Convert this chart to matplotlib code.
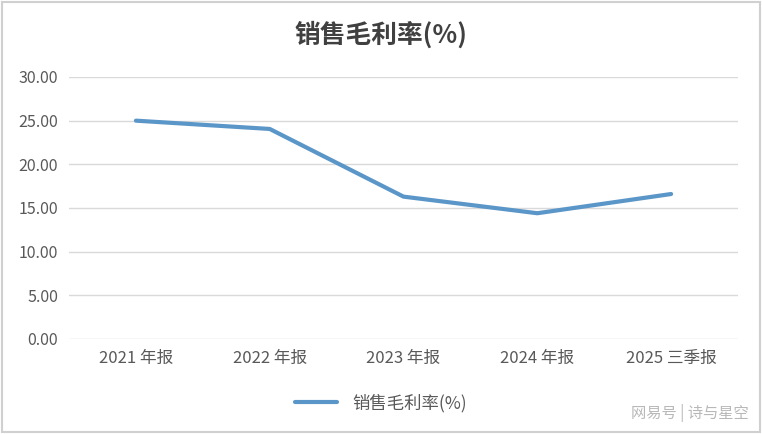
import matplotlib
matplotlib.use("Agg")
import matplotlib.pyplot as plt
from matplotlib.patches import Rectangle

plt.rcParams['font.family'] = ['Noto Sans CJK SC', 'DejaVu Sans']

# data
periodos = ["2021 年报", "2022 年报", "2023 年报", "2024 年报", "2025 三季报"]
margem = [25.0, 24.05, 16.3, 14.4, 16.6]
y_ticks = [0, 5, 10, 15, 20, 25, 30]

fig = plt.figure(figsize=(7.62, 4.34), dpi=100)
ax = fig.add_axes([0.0906, 0.2189, 0.8779, 0.6037])

ax.plot(range(len(periodos)), margem, color="#5b96c8", linewidth=3.0,
        solid_capstyle="round", solid_joinstyle="round", label="销售毛利率(%)")

ax.set_xlim(-0.5, len(periodos) - 0.5)
ax.set_ylim(0, 30)
ax.set_yticks(y_ticks)
ax.set_yticklabels([f"{v:.2f}" for v in y_ticks])
ax.set_xticks(range(len(periodos)))
ax.set_xticklabels(periodos)
ax.tick_params(axis="both", length=0, colors="#595959")
ax.tick_params(axis="y", pad=8, labelsize=11.5)
ax.tick_params(axis="x", pad=8, labelsize=12)
ax.grid(axis="y", color="#d9d9d9", linewidth=1.0)
ax.set_axisbelow(True)
for s in ax.spines.values():
    s.set_visible(False)

fig.text(0.5, 0.92, "销售毛利率(%)", ha="center", va="center",
         fontsize=18.5, fontweight="bold", color="#404040")

fig.legend(loc="center", bbox_to_anchor=(0.5, 0.071), frameon=False,
           fontsize=12.5, labelcolor="#595959", handlelength=2.4, handletextpad=0.9)

fig.text(0.983, 0.048, "网易号 | 诗与星空", ha="right", va="center",
         fontsize=11, color="#b8b8b8")

# outer border
fig.patches.append(Rectangle((0.003, 0.004), 0.994, 0.992, transform=fig.transFigure,
                             fill=False, edgecolor="#d0d0d0", linewidth=1.5))

fig.savefig("out.png", dpi=100)
